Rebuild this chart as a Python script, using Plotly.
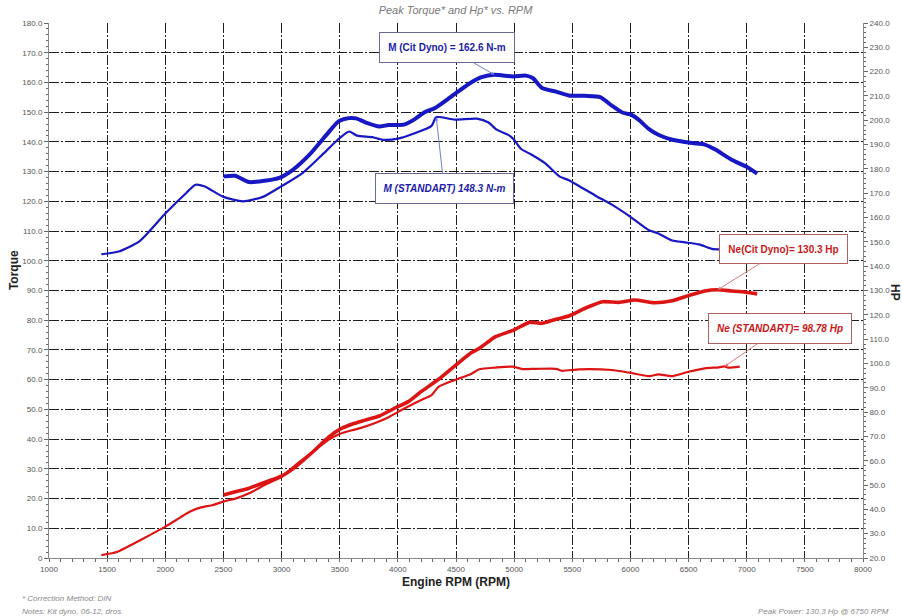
import plotly.graph_objects as go

# ---- Torque (N-m), standard correction ----
rpm_m_std = [1450, 1600, 1780, 2000, 2180, 2260, 2340, 2500, 2670, 2840, 3000, 3180,
             3350, 3500, 3580, 3650, 3780, 3870, 4000, 4150, 4290, 4330, 4490, 4680,
             4780, 4850, 4960, 5000, 5060, 5140, 5270, 5390, 5470, 5560, 5700, 5840,
             6000, 6160, 6240, 6360, 6470, 6590, 6700, 6780]
m_std = [102.2, 103.1, 106.6, 115.9, 122.8, 125.6, 125.0, 121.5, 120.0, 121.5, 125.1, 129.5,
         135.7, 141.3, 143.5, 142.1, 141.6, 140.7, 141.1, 143.0, 145.4, 148.3, 147.5, 147.8,
         146.5, 144.1, 142.1, 140.7, 137.6, 135.9, 132.7, 128.4, 127.1, 125.1, 121.9, 118.9,
         114.8, 110.3, 109.2, 106.8, 106.2, 105.5, 104.0, 103.8]

# ---- Torque (N-m), Cit Dyno ----
rpm_m_cit = [2500, 2600, 2720, 2870, 2980, 3100, 3240, 3380, 3490, 3580, 3640, 3720,
             3840, 3920, 4050, 4140, 4230, 4320, 4430, 4520, 4630, 4720, 4830, 4990,
             5100, 5160, 5240, 5360, 5470, 5610, 5740, 5840, 5930, 6010, 6070, 6160,
             6240, 6360, 6530, 6640, 6730, 6870, 7000, 7090]
m_cit = [128.4, 128.6, 126.5, 127.0, 127.9, 130.7, 135.7, 142.1, 146.9, 148.0, 147.9, 146.6,
         145.2, 145.7, 145.8, 147.5, 150.0, 151.4, 154.4, 157.0, 160.0, 161.8, 162.6, 162.0,
         162.3, 161.5, 158.1, 156.9, 155.6, 155.5, 155.1, 152.2, 149.9, 149.1, 147.5, 144.3,
         142.4, 140.7, 139.6, 139.1, 137.4, 134.0, 131.6, 129.3]

# ---- Power (Hp), standard correction ----
rpm_ne_std = [1450, 1590, 1730, 1870, 2000, 2130, 2210, 2300, 2410, 2500, 2610, 2720,
              2870, 3000, 3120, 3270, 3410, 3500, 3610, 3690, 3810, 3920, 4060, 4200,
              4290, 4350, 4490, 4630, 4700, 4840, 4990, 5070, 5190, 5360, 5410, 5560,
              5840, 5990, 6160, 6240, 6360, 6500, 6640, 6760, 6810, 6840, 6940]
ne_std = [21.2, 22.6, 26.0, 29.5, 32.9, 36.7, 39.0, 40.7, 41.8, 43.2, 44.5, 46.6,
          50.4, 53.4, 58.2, 63.7, 68.8, 71.0, 72.6, 73.6, 75.6, 77.9, 81.6, 85.0,
          87.0, 90.4, 93.2, 95.7, 97.6, 98.3, 98.7, 97.7, 97.8, 97.8, 97.0, 97.6,
          97.3, 96.2, 94.8, 95.5, 94.8, 96.6, 98.0, 98.4, 98.78, 98.3, 98.7]

# ---- Power (Hp), Cit Dyno ----
rpm_ne_cit = [2500, 2610, 2720, 2870, 3000, 3120, 3270, 3410, 3500, 3610, 3720, 3840,
              3990, 4090, 4200, 4350, 4490, 4630, 4700, 4780, 4840, 5000, 5130, 5240,
              5360, 5470, 5610, 5760, 5900, 6040, 6190, 6360, 6500, 6640, 6750, 6870,
              6990, 7090]
ne_cit = [45.9, 47.3, 48.7, 51.4, 53.7, 57.5, 63.7, 69.9, 72.9, 75.1, 76.7, 78.4,
          82.0, 84.3, 88.4, 93.5, 99.0, 104.4, 106.2, 109.0, 111.0, 113.8, 116.9, 116.5,
          118.2, 119.5, 122.7, 125.4, 125.1, 126.1, 125.0, 125.8, 127.9, 129.8, 130.3, 129.8,
          129.3, 128.6]

# ---- Axis ticks ----
x_ticks = list(range(1000, 8001, 500))
torque_ticks = list(range(0, 181, 10))
torque_labels = ["0"] + [f"{v:.1f}" for v in torque_ticks[1:]]
hp_ticks = list(range(20, 241, 10))
hp_labels = [f"{v:.1f}" for v in hp_ticks]

BLUE = "#1717c4"
RED = "#dc1414"
FONT = "Liberation Sans, Arial, sans-serif"

fig = go.Figure()
fig.add_trace(go.Scatter(x=rpm_m_std, y=m_std, mode="lines", name="M (STANDART)",
                         line=dict(color=BLUE, width=2.2, shape="spline", smoothing=0.6)))
fig.add_trace(go.Scatter(x=rpm_m_cit, y=m_cit, mode="lines", name="M (Cit Dyno)",
                         line=dict(color=BLUE, width=4, shape="spline", smoothing=0.6)))
fig.add_trace(go.Scatter(x=rpm_ne_std, y=ne_std, mode="lines", name="Ne (STANDART)",
                         yaxis="y2",
                         line=dict(color=RED, width=2.2, shape="spline", smoothing=0.6)))
fig.add_trace(go.Scatter(x=rpm_ne_cit, y=ne_cit, mode="lines", name="Ne (Cit Dyno)",
                         yaxis="y2",
                         line=dict(color=RED, width=3.6, shape="spline", smoothing=0.6)))

GRID_DASH = "10px,2px,2px,2px"
GRID_COLOR = "#1e1e1e"
tickfont = dict(family=FONT, size=8, color="#555555")

fig.update_layout(
    width=902, height=616,
    margin=dict(l=49, r=37, t=23, b=58),
    paper_bgcolor="white", plot_bgcolor="white",
    showlegend=False,
    font=dict(family=FONT),
    title=dict(text="<i>Peak Torque* and Hp* vs. RPM</i>", x=0.505, xanchor="center",
               y=1 - 10 / 616, yanchor="middle",
               font=dict(family=FONT, size=11, color="#7a7a7a")),
    xaxis=dict(range=[1000, 8000], tickvals=x_ticks, ticktext=[str(v) for v in x_ticks],
               showgrid=True, gridcolor=GRID_COLOR, griddash=GRID_DASH, gridwidth=1,
               showline=True, linecolor="#888888", linewidth=1,
               ticks="outside", ticklen=3, tickcolor="#666666", tickfont=tickfont,
               minor=dict(dtick=100, ticks="outside", ticklen=3, tickcolor="#666666",
                          showgrid=False),
               zeroline=False, fixedrange=True),
    yaxis=dict(range=[0, 180], tickvals=torque_ticks, ticktext=torque_labels,
               showgrid=True, gridcolor=GRID_COLOR, griddash=GRID_DASH, gridwidth=1,
               showline=True, linecolor="#888888", linewidth=1,
               ticks="outside", ticklen=4, tickcolor="#666666", tickfont=tickfont,
               minor=dict(dtick=2, ticks="outside", ticklen=2, tickcolor="#666666",
                          showgrid=False),
               zeroline=False),
    yaxis2=dict(range=[20, 240], tickvals=hp_ticks, ticktext=hp_labels,
                overlaying="y", side="right", showgrid=False,
                showline=True, linecolor="#888888", linewidth=1,
                ticks="outside", ticklen=4, tickcolor="#666666", tickfont=tickfont,
                minor=dict(dtick=2, ticks="outside", ticklen=2, tickcolor="#666666"),
                zeroline=False),
)

# Axis titles
fig.add_annotation(text="<b>Engine RPM (RPM)</b>", xref="paper", yref="paper",
                   x=0.5, y=-24 / 535, xanchor="center", yanchor="middle",
                   showarrow=False, font=dict(family=FONT, size=12, color="#222222"))
fig.add_annotation(text="<b>Torque</b>", xref="paper", yref="paper",
                   x=-35 / 816, y=288 / 535, xanchor="center", yanchor="middle",
                   textangle=-90, showarrow=False,
                   font=dict(family=FONT, size=12, color="#222222"))
fig.add_annotation(text="<b>HP</b>", xref="paper", yref="paper",
                   x=848 / 816, y=265 / 535, xanchor="center", yanchor="middle",
                   textangle=90, showarrow=False,
                   font=dict(family=FONT, size=12, color="#222222"))

# Peak call-outs
def callout(text, x, y, ax, ay, yref, color, border, arrow, w, h):
    fig.add_annotation(text=text, x=x, y=y, xref="x", yref=yref,
                       ax=ax, ay=ay, axref="pixel", ayref="pixel",
                       showarrow=True, arrowhead=2, arrowsize=0.7, arrowwidth=1,
                       arrowcolor=arrow, bgcolor="white", bordercolor=border,
                       borderwidth=1, borderpad=1, width=w, height=h,
                       font=dict(family=FONT, size=10, color=color))

i_mc = m_cit.index(max(m_cit))
callout("<b>M (Cit Dyno) = 162.6 N-m</b>", rpm_m_cit[i_mc], m_cit[i_mc], -47, -27,
        "y", "#1c1ca8", "#6a6a9a", "#7080c8", 132, 27)
i_ms = m_std.index(148.3)
callout("<b><i>M (STANDART) 148.3 N-m</i></b>", rpm_m_std[i_ms], m_std[i_ms], 8, 71,
        "y", "#1c1ca8", "#6a6a9a", "#7080c8", 135, 27)
i_nc = ne_cit.index(max(ne_cit))
callout("<b>Ne(Cit Dyno)= 130.3 Hp</b>", rpm_ne_cit[i_nc], ne_cit[i_nc], 66, -41,
        "y2", "#c81818", "#b06060", "#e07878", 125, 26)
i_ns = ne_std.index(98.78)
callout("<b><i>Ne (STANDART)= 98.78 Hp</i></b>", rpm_ne_std[i_ns], ne_std[i_ns], 55, -38,
        "y2", "#c81818", "#b06060", "#e07878", 140, 27)

# Footnotes
foot = dict(family=FONT, size=8, color="#8a8a8a")
fig.add_annotation(text="<i>* Correction Method: DIN</i>", xref="paper", yref="paper",
                   x=-29 / 816, y=-40 / 535, xanchor="left", yanchor="middle",
                   showarrow=False, font=foot)
fig.add_annotation(text="<i>Notes: Kit dyno, 06-12, dros</i>", xref="paper", yref="paper",
                   x=-29 / 816, y=-53 / 535, xanchor="left", yanchor="middle",
                   showarrow=False, font=foot)
fig.add_annotation(text="<i>Peak Power: 130.3 Hp @ 6750 RPM</i>", xref="paper", yref="paper",
                   x=844 / 816, y=-53 / 535, xanchor="right", yanchor="middle",
                   showarrow=False, font=foot)

fig.write_html("out.html")
